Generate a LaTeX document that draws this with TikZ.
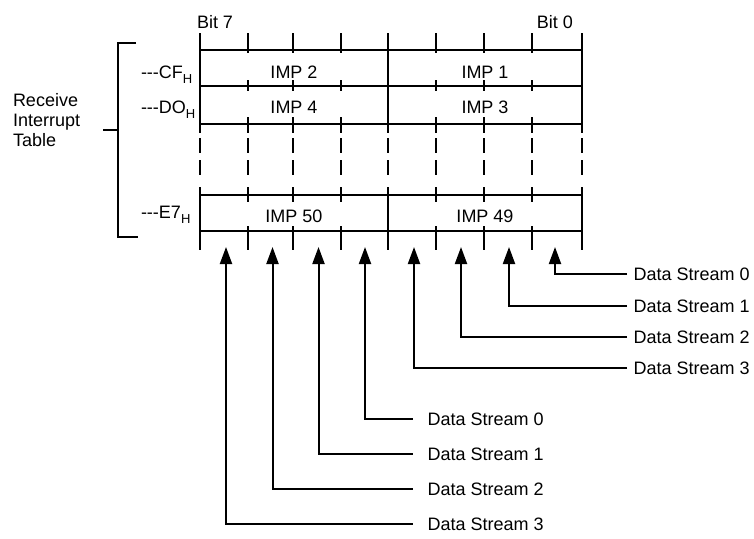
\documentclass[tikz,border=0pt]{standalone}
\usepackage{fontspec}
\setmainfont{Liberation Sans}
\usetikzlibrary{arrows.meta}
\newcommand{\subH}{\raisebox{-0.3em}{\fontsize{13}{13}\selectfont H}}
\begin{document}
\begin{tikzpicture}[x=1pt,y=-1pt,line width=2pt,
  every node/.style={font=\fontsize{18}{20}\selectfont,inner sep=0pt},
  implbl/.style={anchor=base},
  rowlbl/.style={anchor=base west},
  dslblR/.style={anchor=west,inner xsep=5.5pt},
  dslblL/.style={anchor=west,inner xsep=14pt},
  dsarrow/.style={-{Triangle[length=17pt,width=12pt]},line width=2pt}]
\useasboundingbox (0,0) rectangle (754,538);
% horizontal lines of the table
\foreach \y in {50,86,124,195,231} \draw (200,\y) -- (582,\y);
% full borders and centre divider
\foreach \x in {200,388,582} {
  \draw (\x,33) -- (\x,133);
  \draw (\x,138) -- (\x,153);
  \draw (\x,160) -- (\x,175);
  \draw (\x,187) -- (\x,250);
}
% bit ticks
\foreach \x in {248,293,341,436,484,532} {
  \draw (\x,33) -- (\x,53);
  \draw (\x,80) -- (\x,91);
  \draw (\x,117) -- (\x,133);
  \draw (\x,138) -- (\x,153);
  \draw (\x,160) -- (\x,175);
  \draw (\x,187) -- (\x,202);
  \draw (\x,226) -- (\x,250);
}
% bracket
\draw (136,43) -- (118,43) -- (118,237) -- (138,237);
\draw (103,130) -- (118,130);
% texts
\node[anchor=base west] (bit7) at (196,28) {Bit 7};
\node[anchor=base east] (bit0) at (574,28) {Bit 0};
\node[implbl] (imp2) at (294,78) {IMP 2};
\node[implbl] (imp1) at (485,78) {IMP 1};
\node[implbl] (imp4) at (294,113) {IMP 4};
\node[implbl] (imp3) at (485,113) {IMP 3};
\node[implbl] (imp50) at (294,222) {IMP 50};
\node[implbl] (imp49) at (485,222) {IMP 49};
\node[rowlbl] (cf) at (140,78) {-{}-{}-CF\subH};
\node[rowlbl] (do) at (140,113) {-{}-{}-DO\subH};
\node[rowlbl] (e7) at (140,218) {-{}-{}-E7\subH};
\node[anchor=north west,align=left] (rit) at (12,92) {Receive\\Interrupt\\Table};
% data stream labels (right group)
\node[dslblR] (r0) at (627,274) {Data Stream 0};
\node[dslblR] (r1) at (627,306) {Data Stream 1};
\node[dslblR] (r2) at (627,337) {Data Stream 2};
\node[dslblR] (r3) at (627,368) {Data Stream 3};
% data stream labels (left group)
\node[dslblL] (l0) at (412.5,419) {Data Stream 0};
\node[dslblL] (l1) at (412.5,454) {Data Stream 1};
\node[dslblL] (l2) at (412.5,489) {Data Stream 2};
\node[dslblL] (l3) at (412.5,524) {Data Stream 3};
% arrow tips
\coordinate (tr0) at (555,247);
\coordinate (tr1) at (509,247);
\coordinate (tr2) at (461,247);
\coordinate (tr3) at (414,247);
\coordinate (tl0) at (365,247);
\coordinate (tl1) at (318.5,247);
\coordinate (tl2) at (272.5,247);
\coordinate (tl3) at (226,247);
\foreach \i in {0,1,2,3} {
  \draw[dsarrow] (r\i.west) -| (tr\i);
  \draw[dsarrow] (l\i.west) -| (tl\i);
}
\end{tikzpicture}
\end{document}
